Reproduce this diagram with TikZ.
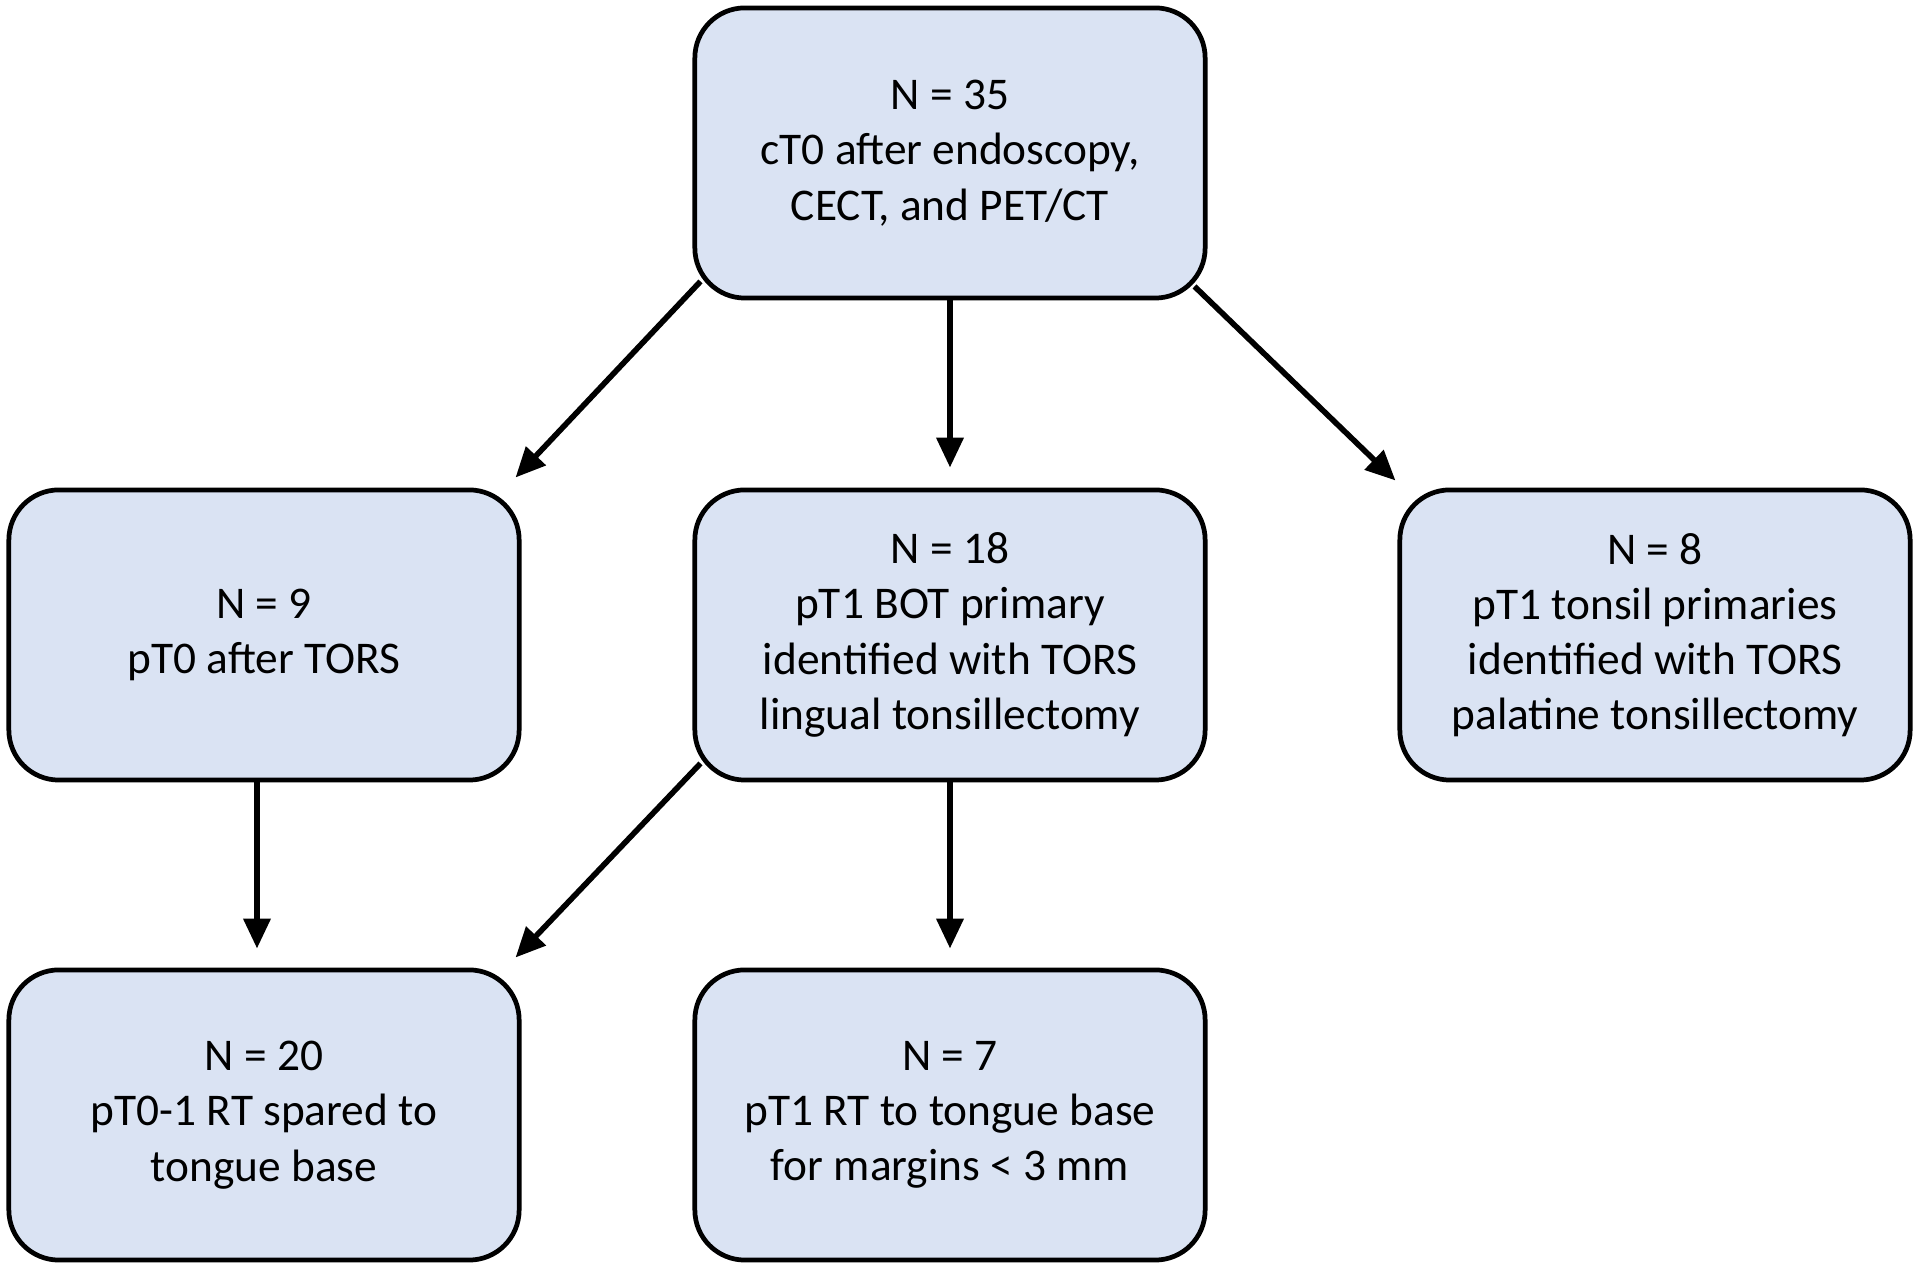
\documentclass[tikz,border=0pt]{standalone}
\usepackage{fontspec}
\setmainfont{Carlito}
\usetikzlibrary{arrows.meta}

\begin{document}
\begin{tikzpicture}[x=0.01cm, y=0.01cm,
  stagebox/.style={draw=black, line width=1.35pt, fill=stage_blue, rounded corners=0.5cm,
    minimum width=5.1cm, minimum height=2.9cm, align=center, inner sep=0pt,
    font=\fontsize{12.9}{15.7}\selectfont},
  flow/.style={line width=1.6pt, -{Triangle[length=8.5pt,width=7.5pt]}}]

\definecolor{stage_blue}{HTML}{DAE3F3}

\useasboundingbox (0,0) rectangle (1920,1267);

\node[stagebox] (top) at (950,1114) {N = 35\\cT0 after endoscopy,\\CECT, and PET/CT};

\node[stagebox] (pTzero) at (264,632) {N = 9\\pT0 after TORS};
\node[stagebox] (bot) at (950,632) {N = 18\\pT1 BOT primary\\identified with TORS\\lingual tonsillectomy};
\node[stagebox] (tonsil) at (1655,632) {N = 8\\pT1 tonsil primaries\\identified with TORS\\palatine tonsillectomy};

\node[stagebox] (spared) at (264,152) {N = 20\\pT0-1 RT spared to\\tongue base};
\node[stagebox] (margins) at (950,152) {N = 7\\pT1 RT to tongue base\\for margins < 3 mm};

\draw[flow] ([shift={(8,19)}]top.south west) -- ([shift={(-6,10)}]pTzero.north east);
\draw[flow] (top.south) -- ([shift={(0,20)}]bot.north);
\draw[flow] ([shift={(-13,14)}]top.south east) -- ([shift={(-2,7)}]tonsil.north west);

\draw[flow] ([shift={(-7,0)}]pTzero.south) -- ([shift={(-7,19)}]spared.north);
\draw[flow] ([shift={(8,19)}]bot.south west) -- ([shift={(-6,10)}]spared.north east);
\draw[flow] (bot.south) -- ([shift={(0,19)}]margins.north);

\end{tikzpicture}
\end{document}
